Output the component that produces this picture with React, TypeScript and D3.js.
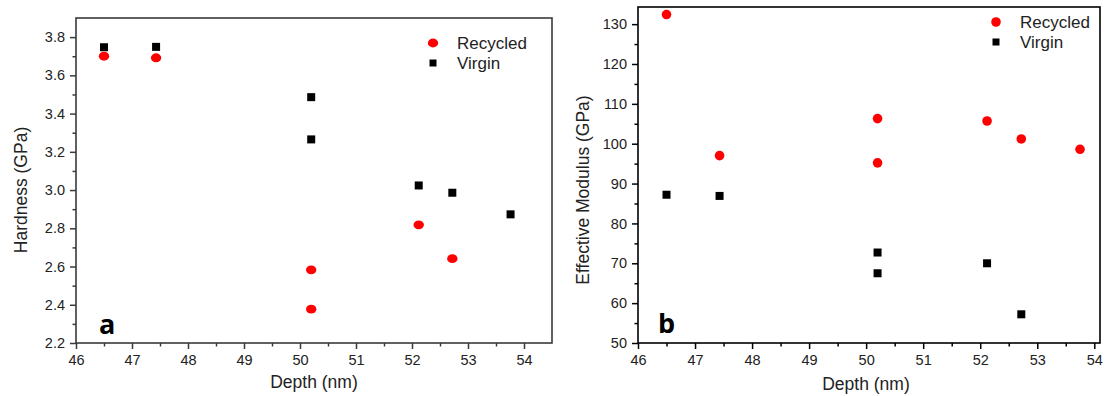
import { useEffect, useRef } from 'react';
import * as d3 from 'd3';

// panel a — hardness
const hardRecDepth = [46.5, 47.43, 50.2, 50.2, 52.12, 52.72];
const hardRec = [3.7, 3.692, 2.583, 2.377, 2.818, 2.641];
const hardVirDepth = [46.5, 47.43, 50.2, 50.2, 52.12, 52.72, 53.76];
const hardVir = [3.747, 3.749, 3.486, 3.265, 3.024, 2.986, 2.873];

// panel b — effective modulus
const modRecDepth = [46.5, 47.43, 50.2, 50.2, 52.12, 52.72, 53.75];
const modRec = [132.4, 97.0, 106.3, 95.2, 105.7, 101.2, 98.6];
const modVirDepth = [46.5, 47.43, 50.2, 50.2, 52.12, 52.72];
const modVir = [87.2, 86.9, 72.7, 67.5, 70.0, 57.2];

const depthTicks = [46, 47, 48, 49, 50, 51, 52, 53, 54];
const hardTicks = [2.2, 2.4, 2.6, 2.8, 3.0, 3.2, 3.4, 3.6, 3.8];
const modTicks = [50, 60, 70, 80, 90, 100, 110, 120, 130];
const legendNames = ['Recycled', 'Virgin'];

const FONT = '"Liberation Sans", Arial, sans-serif';

function Panel({ cfg }) {
  const ref = useRef(null);

  useEffect(() => {
    const g = d3.select(ref.current);
    g.selectAll('*').remove();
    const { xDom, xRange, yDom, yRange, yTicks, yMinor, yFmt, frame, rec, vir, legend, ylabel, xlabelPos, ylabelPos, letter, mr, ms } = cfg;

    const x = d3.scaleLinear().domain(xDom).range(xRange);
    const y = d3.scaleLinear().domain(yDom).range(yRange);
    const [left, right] = xRange;
    const [bottom, top] = yRange;

    // axes (ticks outward)
    const xa = g.append('g').attr('transform', `translate(0,${bottom})`);
    xa.call(d3.axisBottom(x).tickValues(depthTicks).tickSize(6).tickPadding(6).tickFormat(d3.format('d')));
    const xm = g.append('g').attr('transform', `translate(0,${bottom})`);
    xm.call(d3.axisBottom(x).tickValues(depthTicks.slice(0, -1).map((d) => d + 0.5)).tickSize(3.5).tickFormat(() => ''));

    const ya = g.append('g').attr('transform', `translate(${left},0)`);
    ya.call(d3.axisLeft(y).tickValues(yTicks).tickSize(6).tickPadding(5).tickFormat(d3.format(yFmt)));
    const ym = g.append('g').attr('transform', `translate(${left},0)`);
    ym.call(d3.axisLeft(y).tickValues(yMinor).tickSize(3.5).tickFormat(() => ''));

    g.selectAll('.domain').remove();
    g.selectAll('.tick line').attr('stroke', frame).attr('stroke-width', 1.5);
    g.selectAll('.tick text').attr('font-family', FONT).attr('font-size', 14.5).attr('fill', '#222');

    g.append('rect')
      .attr('x', left).attr('y', top)
      .attr('width', right - left).attr('height', bottom - top)
      .attr('fill', 'none').attr('stroke', frame).attr('stroke-width', 1.6);

    // points
    g.selectAll('ellipse.rec')
      .data(rec)
      .enter()
      .append('ellipse')
      .attr('class', 'rec')
      .attr('cx', (d) => x(d[0]))
      .attr('cy', (d) => y(d[1]))
      .attr('rx', mr[0]).attr('ry', mr[1])
      .attr('fill', '#ff0000');

    g.selectAll('rect.vir')
      .data(vir)
      .enter()
      .append('rect')
      .attr('class', 'vir')
      .attr('x', (d) => x(d[0]) - ms / 2)
      .attr('y', (d) => y(d[1]) - ms / 2)
      .attr('width', ms).attr('height', ms)
      .attr('fill', '#000');

    // legend
    const lg = g.append('g').attr('transform', `translate(${legend[0]},${legend[1]})`);
    lg.append('ellipse').attr('cx', 0).attr('cy', 0).attr('rx', mr[0]).attr('ry', mr[1]).attr('fill', '#ff0000');
    lg.append('rect').attr('x', -3.5).attr('y', 20 - 3.5).attr('width', 7).attr('height', 7).attr('fill', '#000');
    legendNames.forEach((n, i) => {
      lg.append('text').attr('x', 24).attr('y', i * 20 + 6).attr('font-family', FONT).attr('font-size', 17).attr('fill', '#222').text(n);
    });

    // titles
    g.append('text')
      .attr('x', xlabelPos[0]).attr('y', xlabelPos[1])
      .attr('text-anchor', 'middle').attr('font-family', FONT).attr('font-size', 17.5).attr('fill', '#222')
      .text('Depth (nm)');
    g.append('text')
      .attr('transform', `translate(${ylabelPos[0]},${ylabelPos[1]}) rotate(-90)`)
      .attr('text-anchor', 'middle').attr('font-family', FONT).attr('font-size', 17.5).attr('fill', '#222')
      .text(ylabel);

    g.append('text')
      .attr('x', letter[0]).attr('y', letter[1])
      .attr('font-family', '"Open Sans", Lato, sans-serif').attr('font-weight', 700).attr('font-size', 27).attr('fill', '#000')
      .text(letter[2]);
  }, [cfg]);

  return <g ref={ref} />;
}

const zip = (a, b) => a.map((d, i) => [d, b[i]]);

const panelA = {
  xDom: [46, 54.5], xRange: [76, 552],
  yDom: [2.2, 3.9], yRange: [343, 18],
  yTicks: hardTicks, yMinor: hardTicks.slice(0, -1).map((d) => d + 0.1), yFmt: '.1f',
  frame: '#3a3a3a',
  rec: zip(hardRecDepth, hardRec), vir: zip(hardVirDepth, hardVir),
  legend: [433, 43], ylabel: 'Hardness (GPa)',
  xlabelPos: [314, 388], ylabelPos: [27, 190], letter: [99, 334, 'a'],
  mr: [5.2, 4.4], ms: 8,
};

const panelB = {
  xDom: [46, 54.1], xRange: [638, 1100],
  yDom: [50, 134.3], yRange: [343, 7],
  yTicks: modTicks, yMinor: modTicks.slice(0, -1).map((d) => d + 5), yFmt: 'd',
  frame: '#000',
  rec: zip(modRecDepth, modRec), vir: zip(modVirDepth, modVir),
  legend: [996, 22], ylabel: 'Effective Modulus (GPa)',
  xlabelPos: [866, 390], ylabelPos: [589, 190], letter: [658, 333, 'b'],
  mr: [4.8, 4.8], ms: 8,
};

export default function App() {
  return (
    <svg width={1106} height={396} style={{ position: 'absolute', left: 0, top: 0, background: '#fff' }}>
      <Panel cfg={panelA} />
      <Panel cfg={panelB} />
    </svg>
  );
}
